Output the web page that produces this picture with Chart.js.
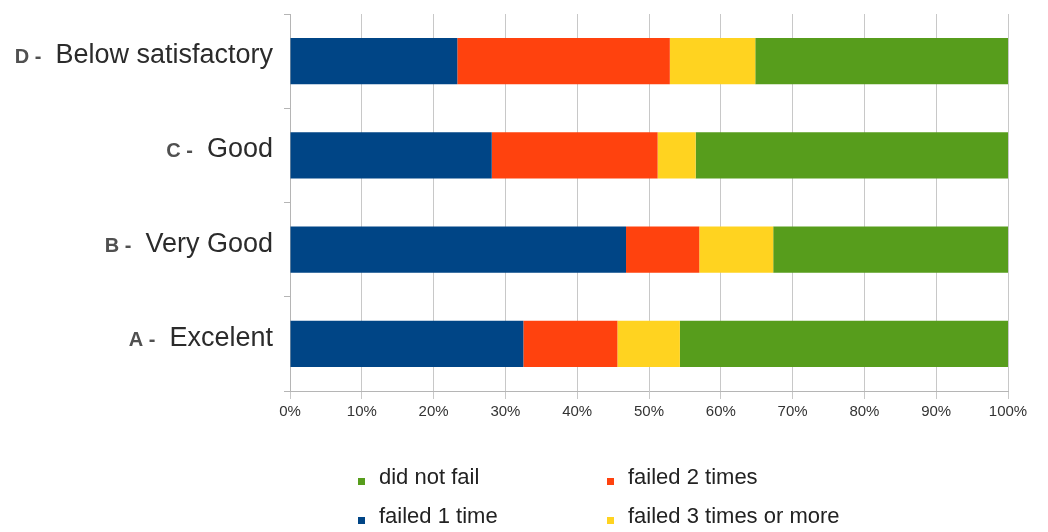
<!DOCTYPE html>
<html>
<head>
<meta charset="utf-8">
<script src="https://cdn.jsdelivr.net/npm/chart.js@4/dist/chart.umd.min.js"></script>
<style>
    body { margin: 0; background: #fff; overflow: hidden; }
    #wrap { position: relative; width: 1048px; height: 532px; }
    #chart { display: block; }
    #legend {
        position: absolute; left: 358px; top: 451px;
        display: grid; grid-template-columns: 249px 260px; grid-auto-rows: 39px;
        font-family: "Liberation Sans", Arial, sans-serif; font-size: 22px; color: #222;
    }
    .item { display: flex; align-items: flex-end; }
    .box { width: 7px; height: 7px; margin-right: 14px; margin-bottom: 5px; flex: none; }
</style>
</head>
<body>
<div id="wrap">
    <canvas id="chart" width="1048" height="532"></canvas>
    <div id="legend"></div>
</div>
<script>
const grades = ['D -  Below satisfactory', 'C -  Good', 'B - Very Good', 'A - Excelent'];
const failedOnce = [23.3, 28.1, 46.8, 32.5];
const failedTwice = [29.6, 23.1, 10.2, 13.1];
const failedThreePlus = [11.9, 5.3, 10.3, 8.7];
const didNotFail = [35.2, 43.5, 32.7, 45.7];
const xTicks = [0, 10, 20, 30, 40, 50, 60, 70, 80, 90, 100];

const datasets = [
    { label: 'failed 1 time', data: failedOnce, backgroundColor: '#004586' },
    { label: 'failed 2 times', data: failedTwice, backgroundColor: '#ff420e' },
    { label: 'failed 3 times or more', data: failedThreePlus, backgroundColor: '#ffd320' },
    { label: 'did not fail', data: didNotFail, backgroundColor: '#579d1c' }
];

// draw the category labels with a smaller letter prefix
const gradeLabels = {
    id: 'gradeLabels',
    afterDraw(chart) {
        const ctx = chart.ctx;
        const y = chart.scales.y;
        const right = 273;
        ctx.save();
        ctx.textBaseline = 'alphabetic';
        ctx.textAlign = 'right';
        grades.forEach((g, i) => {
            const parts = g.split('-');
            const prefix = parts[0].trim() + ' -';
            const name = parts.slice(1).join('-').trim();
            const base = y.getPixelForTick(i) + 2;
            ctx.font = '27px "Liberation Sans", Arial, sans-serif';
            ctx.fillStyle = '#2b2b2b';
            ctx.fillText(name, right, base);
            const w = ctx.measureText(name).width;
            ctx.font = 'bold 20px "Liberation Sans", Arial, sans-serif';
            ctx.fillStyle = '#505050';
            ctx.fillText(prefix, right - w - 14, base);
        });
        ctx.restore();
    }
};

new Chart(document.getElementById('chart'), {
    type: 'bar',
    data: { labels: grades, datasets: datasets },
    options: {
        indexAxis: 'y',
        responsive: false,
        animation: false,
        layout: { padding: { top: 14, right: 40, left: 0, bottom: 0 } },
        plugins: { legend: { display: false }, tooltip: { enabled: false } },
        datasets: { bar: { categoryPercentage: 1, barPercentage: 0.49 } },
        scales: {
            x: {
                stacked: true,
                min: 0,
                max: 100,
                afterBuildTicks: (scale) => { scale.ticks = xTicks.map(v => ({ value: v })); },
                afterFit: (scale) => { scale.height = 141; },
                ticks: {
                    padding: 4,
                    color: '#333',
                    font: { family: '"Liberation Sans", Arial, sans-serif', size: 15 },
                    callback: (v) => v + '%'
                },
                grid: { color: '#c8c8c8', tickLength: 8 },
                border: { color: '#b5b5b5' }
            },
            y: {
                stacked: true,
                afterFit: (scale) => { scale.width = 290; },
                ticks: { display: false },
                grid: { drawOnChartArea: false, tickLength: 6, color: '#b5b5b5' },
                border: { color: '#b5b5b5' }
            }
        }
    },
    plugins: [gradeLabels]
});

// legend: two columns in the reference's order
const legendOrder = [3, 1, 0, 2];
const legend = document.getElementById('legend');
legendOrder.forEach(i => {
    const ds = datasets[i];
    const item = document.createElement('div');
    item.className = 'item';
    item.innerHTML = `<span class="box" style="background:${ds.backgroundColor}"></span><span>${ds.label}</span>`;
    legend.appendChild(item);
});
</script>
</body>
</html>
